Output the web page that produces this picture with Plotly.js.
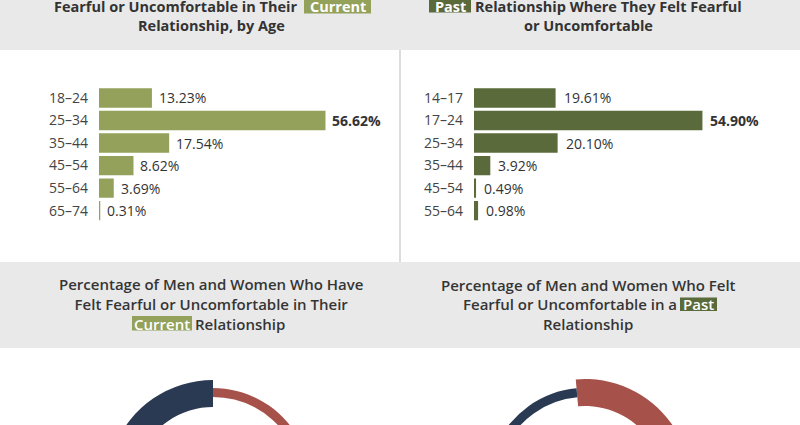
<!DOCTYPE html>
<html>
<head>
<meta charset="utf-8">
<script src="https://cdn.plot.ly/plotly-3.0.1.min.js"></script>
<style>
html,body{margin:0;padding:0;overflow:hidden;background:#fff;}
#wrap{width:800px;height:425px;overflow:hidden;}
#chart{width:800px;height:640px;}
</style>
</head>
<body>
<div id="wrap"><div id="chart"></div></div>
<script>
// ---- data ----
var currentAges = ['18–24','25–34','35–44','45–54','55–64','65–74'];
var currentPct  = [13.23, 56.62, 17.54, 8.62, 3.69, 0.31];
var pastAges    = ['14–17','17–24','25–34','35–44','45–54','55–64'];
var pastPct     = [19.61, 54.90, 20.10, 3.92, 0.49, 0.98];
var genderLabels   = ['Women','Men'];
var currentGender  = [62, 38];   // estimated, only the top of the ring is visible
var pastGender     = [66, 34];   // estimated

// ---- layout helpers ----
var W = 800, H = 640;
function px(x){ return x / W; }
function py(y){ return 1 - y / H; }
var FONT = 'Open Sans, Noto Sans, sans-serif';
var DARK = '#333333';
var OLIVE_L = '#93a15a', OLIVE_D = '#5b6a3a';
var NAVY = '#2a3a52', RED = '#a6524a';
var T = 'rgba(0,0,0,0)';

function pctText(v, arr){
  var s = v.toFixed(2) + '%';
  return v === Math.max.apply(null, arr) ? '<b>' + s + '</b>' : s;
}

var traces = [
  {type:'bar', orientation:'h', x:currentPct, y:currentAges, xaxis:'x', yaxis:'y',
   marker:{color:OLIVE_L, line:{width:0}}, hoverinfo:'skip'},
  {type:'bar', orientation:'h', x:pastPct, y:pastAges, xaxis:'x2', yaxis:'y2',
   marker:{color:OLIVE_D, line:{width:0}}, hoverinfo:'skip'}
];

function ring(values, colors, cx, cy, rOut, rIn, rot){
  return {type:'pie', values:values, labels:genderLabels, sort:false, direction:'clockwise',
    rotation:rot, hole:rIn/rOut, textinfo:'none', hoverinfo:'skip', showlegend:false,
    marker:{colors:colors, line:{width:0}},
    domain:{x:[px(cx-rOut), px(cx+rOut)], y:[py(cy+rOut), py(cy-rOut)]}};
}
traces.push(ring(currentGender, [T, NAVY], 213, 486, 106, 79, 0));
traces.push(ring(currentGender, [RED, T], 213, 486, 98, 89, 0));
traces.push(ring(pastGender, [RED, T], 585, 485, 106, 79, -5));
traces.push(ring(pastGender, [T, NAVY], 585, 485, 97, 88, -5));

var shapes = [
  {type:'rect', xref:'paper', yref:'paper', x0:0, x1:1, y0:py(50), y1:py(-5), fillcolor:'#e9e9e9', line:{width:0}, layer:'below'},
  {type:'rect', xref:'paper', yref:'paper', x0:0, x1:1, y0:py(348), y1:py(262), fillcolor:'#e9e9e9', line:{width:0}, layer:'below'},
  {type:'line', xref:'paper', yref:'paper', x0:px(400), x1:px(400), y0:py(50), y1:py(262), line:{color:'#dddddd', width:2}, layer:'below'},
  // highlight boxes
  {type:'rect', xref:'paper', yref:'paper', x0:px(304), x1:px(371), y0:py(13.5), y1:py(-3), fillcolor:OLIVE_L, line:{width:0}, layer:'above'},
  {type:'rect', xref:'paper', yref:'paper', x0:px(429), x1:px(471), y0:py(12.5), y1:py(-3), fillcolor:OLIVE_D, line:{width:0}, layer:'above'},
  {type:'rect', xref:'paper', yref:'paper', x0:px(132), x1:px(192), y0:py(330.5), y1:py(316), fillcolor:OLIVE_L, line:{width:0}, layer:'above'},
  {type:'rect', xref:'paper', yref:'paper', x0:px(680), x1:px(717), y0:py(311), y1:py(297.5), fillcolor:OLIVE_D, line:{width:0}, layer:'above'}
];

function txt(s, x, y, anchor, size, color, weight){
  return {text:s, xref:'paper', yref:'paper', x:px(x), y:py(y), xanchor:anchor, yanchor:'middle',
    showarrow:false, font:{family:FONT, size:size, color:color || DARK, weight:weight || 400}};
}
var SUB = '#353535';
var annotations = [
  txt('<b>Fearful or Uncomfortable in Their</b>', 299, 6, 'right', 14.5),
  txt('<b>Current</b>', 337.5, 6, 'center', 14.5, '#ffffff'),
  txt('<b>Relationship, by Age</b>', 211, 25.5, 'center', 14.5),
  txt('<b>Past</b>', 450, 6, 'center', 14.5, '#ffffff'),
  txt('<b>Relationship Where They Felt Fearful</b>', 473, 6, 'left', 14.5),
  txt('<b>or Uncomfortable</b>', 588, 25.5, 'center', 14.5),
  txt('Percentage of Men and Women Who Have<br>Felt Fearful or Uncomfortable in Their', 210.5, 294, 'center', 15, SUB, 600),
  txt('Current', 162, 323.5, 'center', 15, '#ffffff', 600),
  txt('Relationship', 193, 323.5, 'left', 15, SUB, 600),
  txt('Percentage of Men and Women Who Felt', 588, 284.5, 'center', 15, SUB, 600),
  txt('Fearful or Uncomfortable in a', 679, 304, 'right', 15, SUB, 600),
  txt('Past', 698.5, 304, 'center', 15, '#ffffff', 600),
  txt('Relationship', 588, 323.5, 'center', 15, SUB, 600)
];
currentAges.forEach(function(c, i){
  annotations.push({text:pctText(currentPct[i], currentPct), x:currentPct[i], y:c, xref:'x', yref:'y',
    xanchor:'left', yanchor:'middle', xshift:5, showarrow:false, font:{family:FONT, size:14, color:DARK}});
});
pastAges.forEach(function(c, i){
  annotations.push({text:pctText(pastPct[i], pastPct), x:pastPct[i], y:c, xref:'x2', yref:'y2',
    xanchor:'left', yanchor:'middle', xshift:6, showarrow:false, font:{family:FONT, size:14, color:DARK}});
});

var yTop = py(86.5), yBot = py(222.1);
var yax = {type:'category', autorange:'reversed', showgrid:false, zeroline:false, showline:false,
  ticks:'', ticklabelstandoff:10, tickfont:{family:FONT, size:14, color:'#444444'}, domain:[yBot, yTop], fixedrange:true};
var layout = {
  width:W, height:H, margin:{l:0, r:0, t:0, b:0}, paper_bgcolor:'#ffffff', plot_bgcolor:'rgba(0,0,0,0)',
  showlegend:false, bargap:0.14,
  xaxis:{domain:[px(99), px(399)], range:[0, 75], visible:false, fixedrange:true},
  xaxis2:{domain:[px(474), px(774)], range:[0, 72.1], visible:false, fixedrange:true, anchor:'y2'},
  yaxis:Object.assign({}, yax, {anchor:'x'}),
  yaxis2:Object.assign({}, yax, {anchor:'x2'}),
  shapes:shapes, annotations:annotations
};
Plotly.newPlot('chart', traces, layout, {displayModeBar:false, staticPlot:true});
</script>
</body>
</html>
